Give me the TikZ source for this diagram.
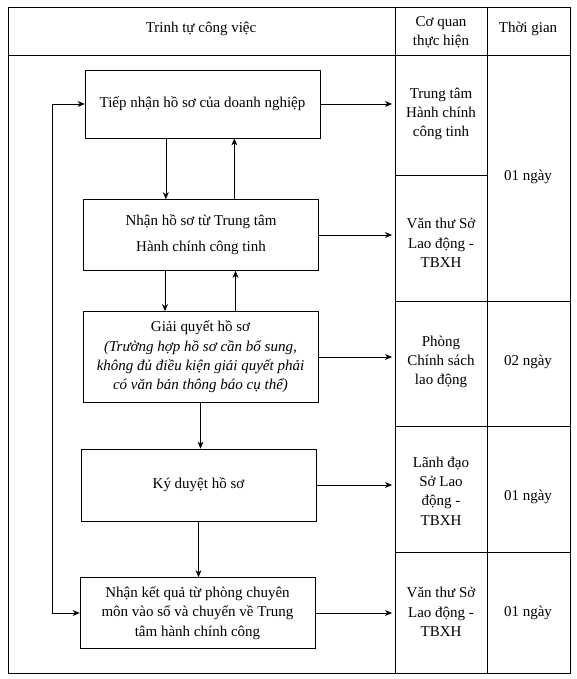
\documentclass[tikz,border=0pt]{standalone}
\usepackage{fontspec}
\setmainfont{Liberation Serif}
\usetikzlibrary{positioning,arrows.meta}

\begin{document}
\begin{tikzpicture}[
  x=0.03cm, y=-0.03cm,
  >={Stealth[length=6pt,width=5pt]},
  every node/.style={font=\fontsize{12.8}{16.5}\selectfont},
  stepbox/.style={draw, line width=0.6pt, minimum width=7.05cm,
                  align=center, inner sep=2pt},
  cell/.style={align=center},
  link/.style={->, line width=0.5pt}
]
  \useasboundingbox (0,0) rectangle (576,679);

  % table frame
  \draw[line width=0.6pt] (8,7) rectangle (570,673);
  \draw (8,55) -- (570,55);
  \draw (395,7) -- (395,673);
  \draw (487,7) -- (487,673);
  \draw (395,175) -- (487,175);
  \foreach \y in {301,426,552} \draw (395,\y) -- (570,\y);

  % header
  \node (hSteps) at (201,29) {Trinh tự công việc};
  \node[cell] (hAgency) at (441,32) {Cơ quan\\thực hiện};
  \node (hTime) at (528,29) {Thời gian};

  % steps
  \node[stepbox, minimum height=2.04cm] (recv) at (202.5,104)
    {Tiếp nhận hồ sơ của doanh nghiệp};
  \node[stepbox, minimum height=2.13cm] (fromCenter) at (201,235)
    {Nhận hồ sơ từ Trung tâm\\[6pt]Hành chính công tinh};
  \node[stepbox, minimum height=2.73cm] (solve) at (200.5,357)
    {Giải quyết hồ sơ\\\textit{(Trường hợp hồ sơ cần bổ sung,}\\
     \textit{không đủ điều kiện giải quyết phải}\\
     \textit{có văn bản thông báo cụ thể)}};
  \node[stepbox, minimum height=2.16cm] (sign) at (198.5,485)
    {Ký duyệt hồ sơ};
  \node[stepbox, minimum height=2.13cm] (result) at (197.5,613)
    {Nhận kết quả từ phòng chuyên\\môn vào sổ và chuyển về Trung\\tâm hành chính công};

  % agencies
  \node[cell] (agCenter) at (441,114) {Trung tâm\\Hành chính\\công tinh};
  \node[cell] (agClerk) at (441,243) {Văn thư Sở\\Lao động -\\TBXH};
  \node[cell] (agPolicy) at (441,362) {Phòng\\Chính sách\\lao động};
  \node[cell] (agLead) at (441,491) {Lãnh đạo\\Sở Lao\\động -\\TBXH};
  \node[cell] (agClerkB) at (441,612) {Văn thư Sở\\Lao động -\\TBXH};

  % durations
  \node (tOne) at (528,177) {01 ngày};
  \node (tTwo) at (528,362) {02 ngày};
  \node (tThree) at (528,497) {01 ngày};
  \node (tFour) at (528,613) {01 ngày};

  % arrows to agencies
  \draw[link] (recv.east) -- (recv.east -| 392,0);
  \draw[link] (fromCenter.east) -- (fromCenter.east -| 392,0);
  \draw[link] (solve.east) -- (solve.east -| 392,0);
  \draw[link] (sign.east) -- (sign.east -| 392,0);
  \draw[link] (result.east) -- (result.east -| 392,0);

  % arrows between steps
  \draw[link] ([xshift=-1.1cm]recv.south) -- ([xshift=-1.1cm]recv.south |- fromCenter.north);
  \draw[link] ([xshift=1.0cm]fromCenter.north) -- ([xshift=1.0cm]fromCenter.north |- recv.south);
  \draw[link] ([xshift=-1.08cm]fromCenter.south) -- ([xshift=-1.08cm]fromCenter.south |- solve.north);
  \draw[link] ([xshift=1.05cm]solve.north) -- ([xshift=1.05cm]solve.north |- fromCenter.south);
  \draw[link] (solve.south) -- (solve.south |- sign.north);
  \draw[link] (sign.south) -- (sign.south |- result.north);

  % return loop
  \coordinate (loopTop) at (52,104);
  \coordinate (loopBot) at (52,613);
  \draw[link, <->] (recv.west) -- (loopTop) -- (loopBot) -- (result.west);
\end{tikzpicture}
\end{document}
